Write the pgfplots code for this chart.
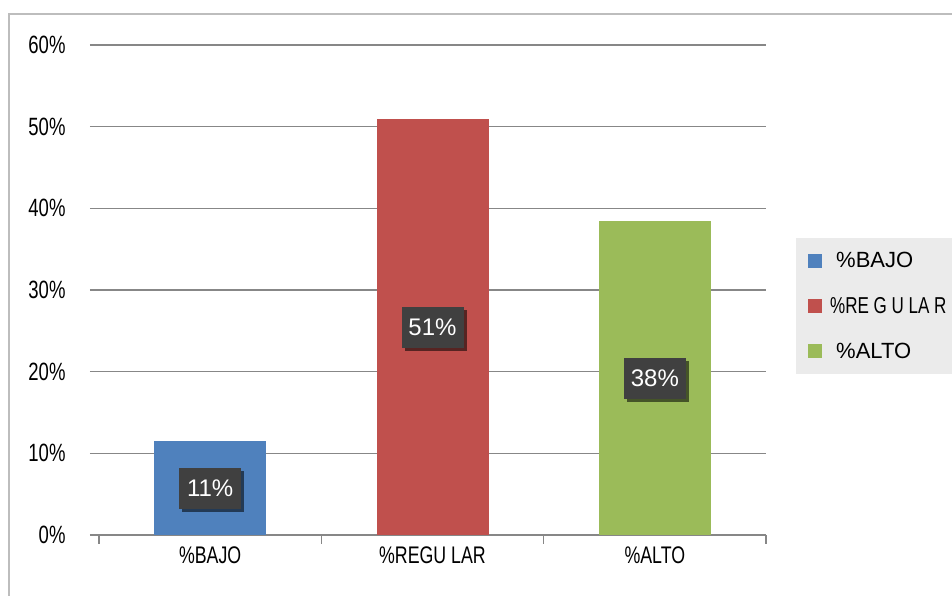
\documentclass[border=0pt]{standalone}
\usepackage{fontspec}
\setmainfont{Liberation Sans}
\newfontfamily\cond{Liberation Sans}[FakeStretch=0.74]
\usepackage{pgfplots}
\pgfplotsset{compat=1.18}
\usetikzlibrary{shadows}
\definecolor{cBlue}{HTML}{4F81BD}
\definecolor{cRed}{HTML}{C0504D}
\definecolor{cGreen}{HTML}{9BBB59}
\definecolor{gridc}{HTML}{878787}
\definecolor{framec}{HTML}{BDBDBD}
\definecolor{legc}{HTML}{EBEBEB}
\definecolor{boxc}{HTML}{404040}
\begin{document}
\begin{tikzpicture}[x=1pt,y=1pt]
\useasboundingbox (0,0) rectangle (952,596);
\fill[white] (0,0) rectangle (952,596);
\draw[framec, line width=2pt] (9,0) -- (9,582) -- (953,582);
\begin{axis}[at={(99pt,61pt)}, anchor=south west, scale only axis,
  width=667pt, height=490pt,
  xmin=-0.5, xmax=2.5, ymin=0, ymax=60,
  axis x line*=bottom, axis y line*=left,
  y axis line style={draw=none},
  x axis line style={gridc, line width=2pt, -},
  /pgf/number format/assume math mode=true,
  ytick={0,10,...,60},
  yticklabel={\pgfmathprintnumber{\tick}\%},
  yticklabel style={font=\fontsize{25}{25}\cond, text=black, xshift=-21pt},
  ymajorgrids, grid style={gridc, line width=1.5pt},
  tick align=outside, major tick length=9pt,
  tick style={gridc, line width=1.5pt},
  xtick={-0.5,0.5,1.5,2.5}, xticklabels={,,,},
  extra x ticks={0,1,2},
  extra x tick labels={\%BAJO,\%REGU LAR,\%ALTO},
  extra x tick style={major tick length=0pt, tick style={draw=none}},
  xticklabel style={font=\fontsize{24}{24}\cond, text=black, yshift=-8pt},
  legend style={at={(1,0.606)}, anchor=north west, xshift=30pt,
    draw=none, fill=legc, font=\fontsize{22}{22}\selectfont,
    row sep=24pt, inner xsep=12pt, inner ysep=12pt,
    /tikz/every odd column/.append style={column sep=12pt},
    /tikz/every even column/.append style={column sep=0pt}},
  legend cell align=left,
  legend image code/.code={\fill[#1,draw=none] (0pt,-7pt) rectangle (14pt,7pt);},
  nodes near coords style={anchor=center, fill=boxc, text=white,
    font=\fontsize{24}{24}\selectfont, minimum width=62pt, minimum height=41pt,
    inner sep=0pt,
    drop shadow={shadow xshift=3pt, shadow yshift=-3pt, opacity=0.55, fill=black}},
]
\addplot[ybar, bar width=112pt, bar shift=0pt, fill=cBlue, draw=none] coordinates {(0,11.5)};
\addlegendentry{\%BAJO}
\addplot[ybar, bar width=112pt, bar shift=0pt, fill=cRed, draw=none] coordinates {(1,50.9)};
\addlegendentry{{\hspace{-6pt}\fontsize{23}{23}\cond\%RE G U LA R}}
\addplot[ybar, bar width=112pt, bar shift=0pt, fill=cGreen, draw=none] coordinates {(2,38.4)};
\addlegendentry{\%ALTO}
\addplot[draw=none, mark=none, forget plot, nodes near coords, point meta=explicit symbolic]
  coordinates {(0,5.75) [11\%] (1,25.45) [51\%] (2,19.2) [38\%]};
\end{axis}
\end{tikzpicture}
\end{document}
